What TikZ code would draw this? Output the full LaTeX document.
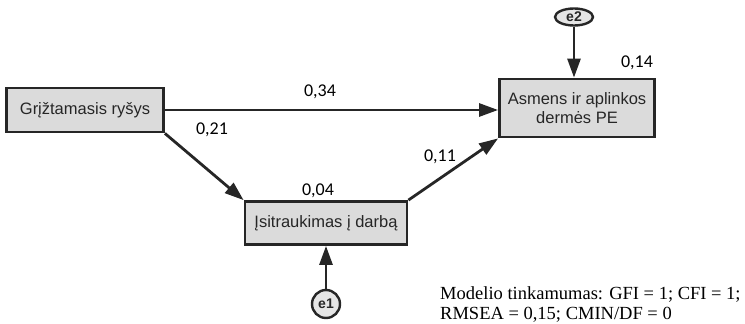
\documentclass[tikz,border=0pt]{standalone}
\usepackage{fontspec}
\setmainfont{Liberation Serif}
\newfontfamily\boxfont{Liberation Sans}
\newfontfamily\coeffont{Carlito}
\usetikzlibrary{arrows.meta}
\usetikzlibrary{shapes.geometric}
\tikzstyle{varbox}=[draw=black!85, line width=2.8pt, fill=black!14, inner sep=0pt, align=center, font=\boxfont\fontsize{16.5}{19}\selectfont, text=black!85]
\tikzstyle{errnode}=[draw=black!85, line width=2.4pt, fill=black!10, ellipse, inner sep=0pt, font=\boxfont\bfseries\fontsize{14}{16}\selectfont, text=black!85]
\tikzstyle{effect}=[line width=2.8pt, draw=black!85, -{Triangle[length=19pt,width=13pt]}]
\tikzstyle{coef}=[font=\coeffont\fontsize{18}{20}\selectfont]

\begin{document}
\begin{tikzpicture}[x=1pt, y=-1pt]
        \useasboundingbox (0,0) rectangle (745,324);
        \node[varbox, minimum width=157pt, minimum height=44pt]          (griz) at (85, 110) {Grįžtamasis ryšys};
        \node[varbox, minimum width=155pt, minimum height=58pt, label={[coef, xshift=60pt, yshift=4pt]above:0,14}]
                                                                          (asmens) at (577, 108) {Asmens ir aplinkos\\dermės PE};
        \node[varbox, minimum width=162pt, minimum height=43pt, label={[coef, xshift=-8pt, yshift=-1pt]above:0,04}]
                                                                          (isitr) at (326, 223) {Įsitraukimas į darbą};
        \node[errnode, minimum width=38pt, minimum height=17pt]           (e2) at (574, 17) {e2};
        \node[errnode, circle, minimum size=28pt]                         (e1) at (326, 304) {e1};
        \draw[effect] (griz.east) -- (asmens.west |- griz.east);
        \draw[effect] (griz.south east) -- (isitr.north west);
        \draw[effect] (isitr.north east) -- (asmens.south west);
        \draw[effect] (e2) -- (e2 |- asmens.north);
        \draw[effect] (e1) -- (isitr);
        \node[coef] (w34) at (320, 92) {0,34};
        \node[coef] (w21) at (212, 130) {0,21};
        \node[coef] (w11) at (440, 157) {0,11};
        \node[anchor=north west, align=left, font=\fontsize{18.5}{20}\selectfont, inner sep=0pt] (fit) at (440, 286)
            {Modelio tinkamumas: GFI = 1; CFI = 1;\\RMSEA = 0,15; CMIN/DF = 0};
    \end{tikzpicture}
\end{document}
